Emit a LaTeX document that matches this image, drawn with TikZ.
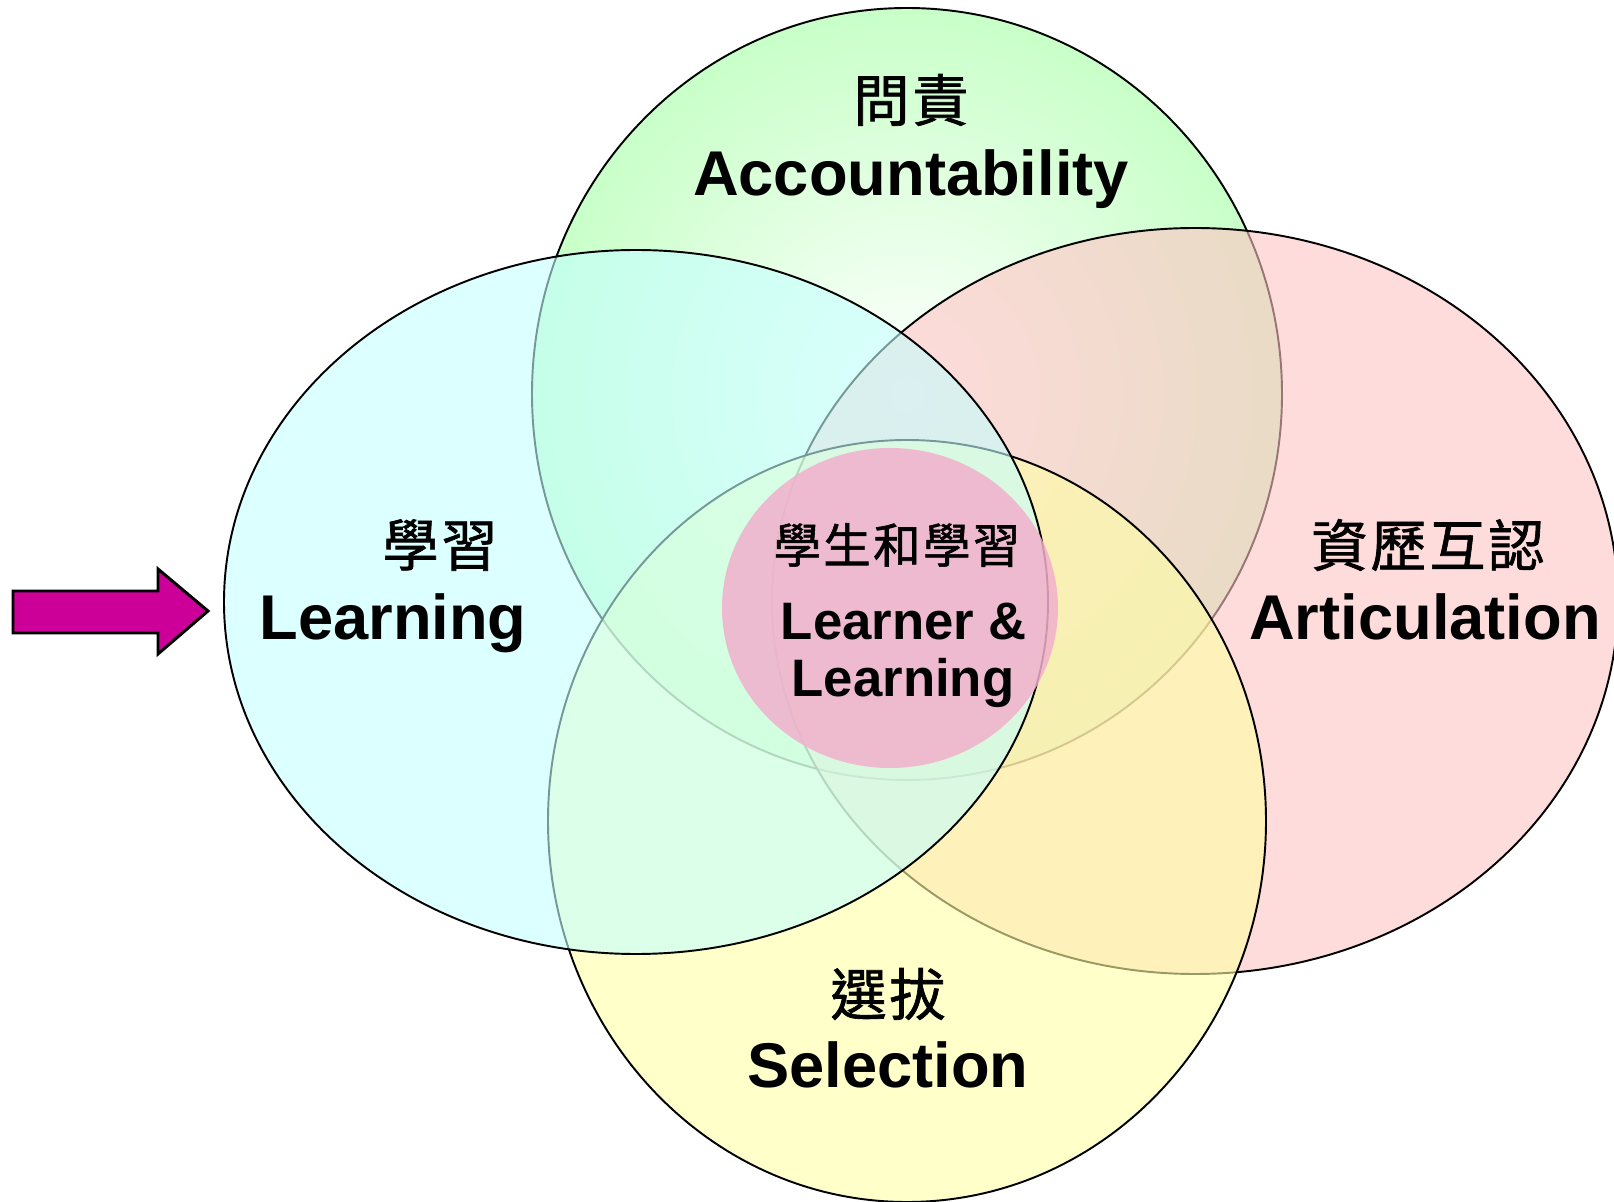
\documentclass[tikz,border=0pt]{standalone}
\usepackage{fontspec}
\usepackage{tikz}
\setmainfont{Liberation Sans}
\newfontfamily\cjk[LetterSpace=5,FakeBold=1.2]{Noto Sans CJK TC}
\definecolor{accgreen}{RGB}{200,255,200}
\definecolor{learncyan}{RGB}{196,255,255}
\definecolor{artpink}{RGB}{255,196,196}
\definecolor{selyellow}{RGB}{255,255,165}
\definecolor{corepink}{RGB}{242,176,204}
\definecolor{arrowmag}{RGB}{204,0,153}

\begin{document}
\begin{tikzpicture}[x=0.02cm,y=-0.02cm]
\tikzstyle{every node}+=[inner sep=0pt]
\tikzstyle{ring}=[black, line width=1.1pt, fill opacity=0.6]
\tikzstyle{zh}=[font=\cjk\fontsize{32}{36}\selectfont]
\tikzstyle{en}=[font=\bfseries\fontsize{36}{40}\selectfont, anchor=base]
\useasboundingbox (0,0) rectangle (1614,1202);
% the four sets
\draw [black, line width=1.1pt, inner color=white, outer color=accgreen] (907,394) ellipse (375 and 386);
\draw [ring, fill=artpink] (1195,601) ellipse (423 and 373);
\draw [ring, fill=selyellow] (907,821) ellipse (359 and 381);
\draw [ring, fill=learncyan] (636,602) ellipse (412 and 352);
\fill [corepink, fill opacity=0.85] (890,608) ellipse (168 and 160);
% pointer
\draw [black, line width=1.7pt, fill=arrowmag] (13,591) -- (158,591) -- (158,569) -- (208,611) -- (158,654) -- (158,633) -- (13,633) -- cycle;
% labels
\node [zh] (acczh) at (911,100) {問責};
\node [en] (acc) at (911,196) {Accountability};
\node [zh] (learnzh) at (440,545) {學習};
\node [en] (learn) at (393,640) {Learning};
\node [zh] (artzh) at (1428,545) {資歷互認};
\node [en] (art) at (1425,640) {Articulation};
\node [zh] (selzh) at (888,994) {選拔};
\node [en] (sel) at (888,1087) {Selection};
\node [font=\cjk\fontsize{27}{30}\selectfont] (corezh) at (897,545) {學生和學習};
\node [en, font=\bfseries\fontsize{30}{34}\selectfont] (core) at (904,640) {Learner \&};
\node [en, font=\bfseries\fontsize{30}{34}\selectfont] (core2) at (903,697) {Learning};
\end{tikzpicture}
\end{document}
